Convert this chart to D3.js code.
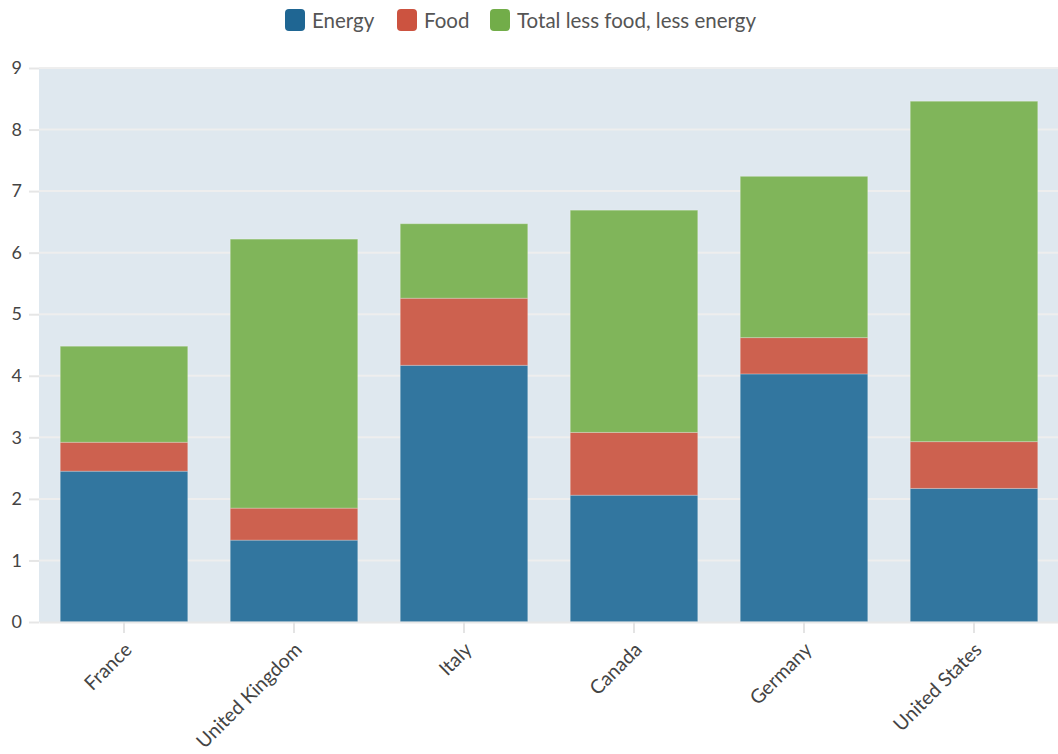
<!DOCTYPE html>
<html>
<head>
<meta charset="utf-8">
<script src="https://cdn.jsdelivr.net/npm/d3@7"></script>
<style>
  html, body { margin: 0; padding: 0; background: #fff; }
  svg { display: block; }
  svg text { font-family: Lato, "Open Sans", sans-serif; }
</style>
</head>
<body>
<svg id="chart" width="1058" height="754"></svg>
<script>
// Inflation contributions by country (percentage points)
const countries = ["France", "United Kingdom", "Italy", "Canada", "Germany", "United States"];
const seriesNames = ["Energy", "Food", "Total less food, less energy"];
const energy = [2.45, 1.33, 4.17, 2.06, 4.03, 2.17];
const food = [0.47, 0.52, 1.09, 1.02, 0.59, 0.76];
const core = [1.56, 4.37, 1.21, 3.61, 2.62, 5.53];
const yTicks = [0, 1, 2, 3, 4, 5, 6, 7, 8, 9];

const barColors = ["#32769f", "#cd614f", "#80b55a"];
const swatchColors = ["#1f6693", "#cc5340", "#72ad49"];

const rows = countries.map((c, i) => ({
  country: c,
  [seriesNames[0]]: energy[i],
  [seriesNames[1]]: food[i],
  [seriesNames[2]]: core[i]
}));

const svg = d3.select("#chart");
const margin = { top: 68, right: -1, bottom: 132, left: 39 };
const W = 1058, H = 754;
const iw = W - margin.left - margin.right;
const ih = H - margin.top - margin.bottom;

const x = d3.scaleBand().domain(countries).range([0, iw]).paddingInner(0.25).paddingOuter(0.125);
const y = d3.scaleLinear().domain([0, 9]).range([ih, 0]);
const color = d3.scaleOrdinal().domain(seriesNames).range(barColors);

const g = svg.append("g").attr("transform", `translate(${margin.left},${margin.top})`);

// plot background
g.append("rect").attr("x", 0).attr("y", 0).attr("width", iw).attr("height", ih).attr("fill", "#dfe8ef");

// horizontal gridlines
g.append("g").selectAll("line").data(yTicks.slice(1)).join("line")
  .attr("x1", 0).attr("x2", iw)
  .attr("y1", d => y(d)).attr("y2", d => y(d))
  .attr("stroke", "#eeeeee").attr("stroke-width", 2);

// y axis
const yAxis = g.append("g")
  .call(d3.axisLeft(y).tickValues(yTicks).tickFormat(d3.format("d")).tickSize(10).tickPadding(7));
yAxis.attr("font-family", null);
yAxis.select(".domain").remove();
yAxis.selectAll(".tick line").attr("stroke", "#e6e6e6").attr("stroke-width", 2);
yAxis.selectAll("text").attr("fill", "#444").attr("font-size", 18);

// stacked bars
const stack = d3.stack().keys(seriesNames);
const layers = stack(rows);
g.append("g").selectAll("g").data(layers).join("g")
  .attr("fill", d => color(d.key))
  .selectAll("rect").data(d => d).join("rect")
  .attr("x", d => x(d.data.country))
  .attr("width", x.bandwidth())
  .attr("y", d => y(d[1]))
  .attr("height", d => y(d[0]) - y(d[1]))
  .attr("stroke", "rgba(255,255,255,0.25)")
  .attr("stroke-width", 1);

// x axis
const xAxis = g.append("g").attr("transform", `translate(0,${ih})`)
  .call(d3.axisBottom(x).tickSize(11).tickSizeOuter(0));
xAxis.attr("font-family", null);
xAxis.select(".domain").attr("stroke", "#e8e8e8").attr("stroke-width", 2);
xAxis.selectAll(".tick line").attr("stroke", "#e4e4e4").attr("stroke-width", 2);
xAxis.selectAll("text")
  .attr("fill", "#444").attr("font-size", 19.5)
  .attr("text-anchor", "end")
  .attr("x", 0).attr("y", 0).attr("dy", 0)
  .attr("transform", "translate(9,29) rotate(-45)");

// legend
const legendItems = [
  { name: seriesNames[0], x: 285 },
  { name: seriesNames[1], x: 397 },
  { name: seriesNames[2], x: 490 }
];
const lg = svg.append("g");
const li = lg.selectAll("g").data(legendItems).join("g")
  .attr("transform", d => `translate(${d.x},9)`);
li.append("rect").attr("width", 20).attr("height", 22).attr("rx", 4)
  .attr("fill", (d, i) => swatchColors[i]);
li.append("text").attr("x", 27).attr("y", 18.5)
  .attr("font-size", 20.5).attr("fill", "#555").text(d => d.name);
</script>
</body>
</html>
